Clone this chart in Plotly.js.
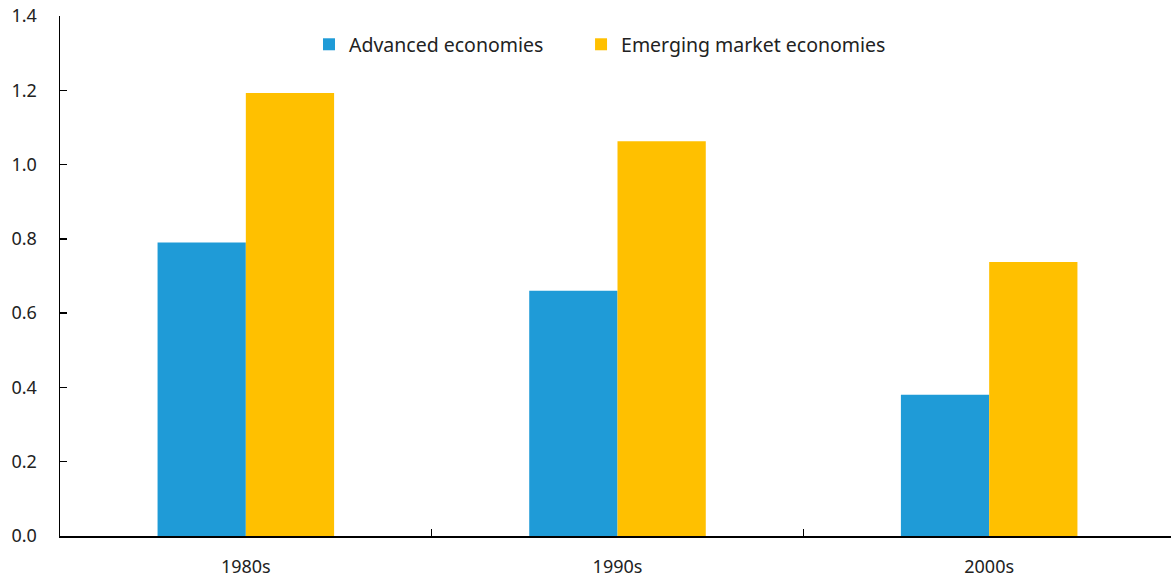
<!DOCTYPE html>
<html>
<head>
<meta charset="utf-8">
<script src="https://cdn.plot.ly/plotly-3.0.1.min.js"></script>
<style>
html,body{margin:0;padding:0;background:#fff;overflow:hidden;}
#chart{width:1175px;height:583px;}
</style>
</head>
<body>
<div id="chart"></div>
<script>
var categories = ["1980s", "1990s", "2000s"];
var advanced = [0.79, 0.66, 0.38];
var emerging = [1.193, 1.063, 0.738];
var seriesNames = ["Advanced economies", "Emerging market economies"];
var yTicks = [0, 0.2, 0.4, 0.6, 0.8, 1.0, 1.2, 1.4];
var yTickText = ["0.0", "0.2", "0.4", "0.6", "0.8", "1.0", "1.2", "1.4"];

var fam = "Noto Sans, Open Sans, sans-serif";
var tickFont = {family: fam, size: 18, color: "#222"};
var legFont = {family: fam, size: 19.5, color: "#222"};

var data = [
  {type: "bar", x: categories, y: advanced, name: seriesNames[0], marker: {color: "#1f9bd7"}, legend: "legend"},
  {type: "bar", x: categories, y: emerging, name: seriesNames[1], marker: {color: "#ffc000"}, legend: "legend2"}
];

var layout = {
  width: 1175, height: 583,
  margin: {l: 60, r: 0, t: 16, b: 47},
  paper_bgcolor: "#fff", plot_bgcolor: "#fff",
  font: tickFont,
  barmode: "group",
  bargap: 0.525,
  bargroupgap: 0,
  showlegend: true,
  legend: {orientation: "h", x: 0.2233, xanchor: "left", y: 0.945, yanchor: "middle",
           font: legFont, bgcolor: "rgba(0,0,0,0)"},
  legend2: {orientation: "h", x: 0.4673, xanchor: "left", y: 0.945, yanchor: "middle",
           font: legFont, bgcolor: "rgba(0,0,0,0)"},
  xaxis: {
    type: "category", range: [-0.5, 2.5],
    showline: true, linecolor: "#000", linewidth: 1.5,
    ticks: "inside", tickson: "boundaries", ticklen: 7, tickcolor: "#000", tickwidth: 1.5,
    showgrid: false, zeroline: false,
    ticklabelstandoff: 14,
    tickfont: tickFont
  },
  yaxis: {
    range: [0, 1.4], tickvals: yTicks, ticktext: yTickText,
    showline: true, linecolor: "#000", linewidth: 1.5,
    ticks: "inside", ticklen: 7, tickcolor: "#000", tickwidth: 1.5,
    showgrid: false, zeroline: false,
    ticklabelstandoff: 18,
    tickfont: tickFont
  }
};

Plotly.newPlot("chart", data, layout, {displayModeBar: false, staticPlot: true});
</script>
</body>
</html>
